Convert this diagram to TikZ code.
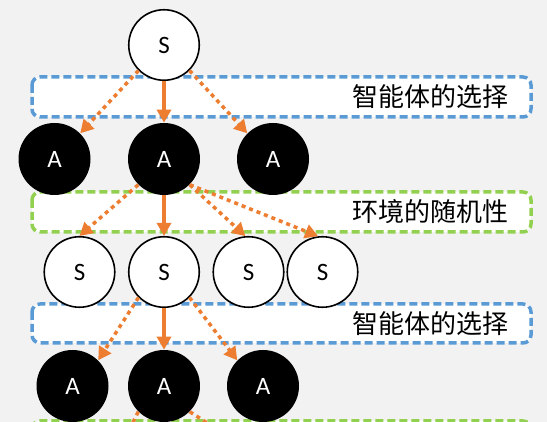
\documentclass[tikz,border=0pt]{standalone}
\usepackage{fontspec}
\setsansfont{Carlito}
\newfontfamily\cjk{Noto Sans CJK SC}
\usetikzlibrary{arrows.meta}

\definecolor{bgGrey}{RGB}{242,242,242}
\definecolor{boxBlue}{RGB}{91,155,213}
\definecolor{boxGreen}{RGB}{146,208,80}
\definecolor{arrowOrange}{RGB}{237,125,49}

\tikzset{every picture/.style={line width=0.75pt},
  snode/.style={circle,draw=black,line width=1.6pt,fill=white,minimum size=70.5pt,inner sep=0pt,font=\sffamily\fontsize{25}{25}\selectfont},
  anode/.style={circle,fill=black,text=white,minimum size=72pt,inner sep=0pt,font=\sffamily\fontsize{25}{25}\selectfont},
  choicebox/.style={draw=boxBlue,fill=white,line width=3.5pt,dash pattern=on 8pt off 4pt,rounded corners=8pt},
  chancebox/.style={choicebox,draw=boxGreen},
  boxlabel/.style={anchor=east,inner sep=0pt,font=\cjk\fontsize{26}{26}\selectfont},
  solidarrow/.style={draw=arrowOrange,line width=3.5pt,-{Triangle[width=14pt,length=13pt]}},
  dotarrow/.style={solidarrow,dash pattern=on 4pt off 4pt}
}

\begin{document}
\begin{tikzpicture}[x=1pt,y=1pt,yscale=-1,xscale=1]
\useasboundingbox (0,0) rectangle (547,422);
\fill [bgGrey] (0,0) rectangle (547,422);
\clip (0,0) rectangle (547,422);

%Boxes
\draw [choicebox] (32,77) rectangle (531,117);
\draw [chancebox] (32,192) rectangle (531,232);
\draw [choicebox] (32,304) rectangle (531,343);
\draw [chancebox] (32,421) rectangle (531,461);

% Text Node
\node [boxlabel] (pick1) at (509,97) {智能体的选择};
\node [boxlabel] (rand1) at (509,212) {环境的随机性};
\node [boxlabel] (pick2) at (509,324) {智能体的选择};

%States and actions
\node [snode] (root) at (164,45) {S};
\node [anode] (a1l) at (54.5,159) {A};
\node [anode] (a1m) at (164,159) {A};
\node [anode] (a1r) at (273,159) {A};
\node [snode] (s2a) at (79.5,272) {S};
\node [snode] (s2b) at (164,272) {S};
\node [snode] (s2c) at (248.5,272) {S};
\node [snode] (s2d) at (322.5,272) {S};
\node [anode] (a3l) at (72.5,386) {A};
\node [anode] (a3m) at (164,386) {A};
\node [anode] (a3r) at (263,386) {A};

%Arrows
\draw [dotarrow] (root.225) -- (a1l.45);
\draw [solidarrow] (root) -- (a1m);
\draw [dotarrow] (root.315) -- (a1r.135);

\draw [dotarrow] (a1m.225) -- (s2a.north);
\draw [solidarrow] (a1m) -- (s2b);
\draw [dotarrow] (a1m.315) -- (s2c.95);
\draw [dotarrow] (a1m.315) -- (s2d.97);

\draw [dotarrow] (s2b.225) -- (a3l.45);
\draw [solidarrow] (s2b) -- (a3m);
\draw [dotarrow] (s2b.315) -- (a3r.135);

%cut off at the bottom
\coordinate (offl) at (120,448);
\coordinate (offm) at (164,460);
\coordinate (offr) at (240,444);
\draw [dotarrow] (a3m.225) -- (offl);
\draw [solidarrow] (a3m) -- (offm);
\draw [dotarrow] (a3m.315) -- (offr);

\end{tikzpicture}
\end{document}
